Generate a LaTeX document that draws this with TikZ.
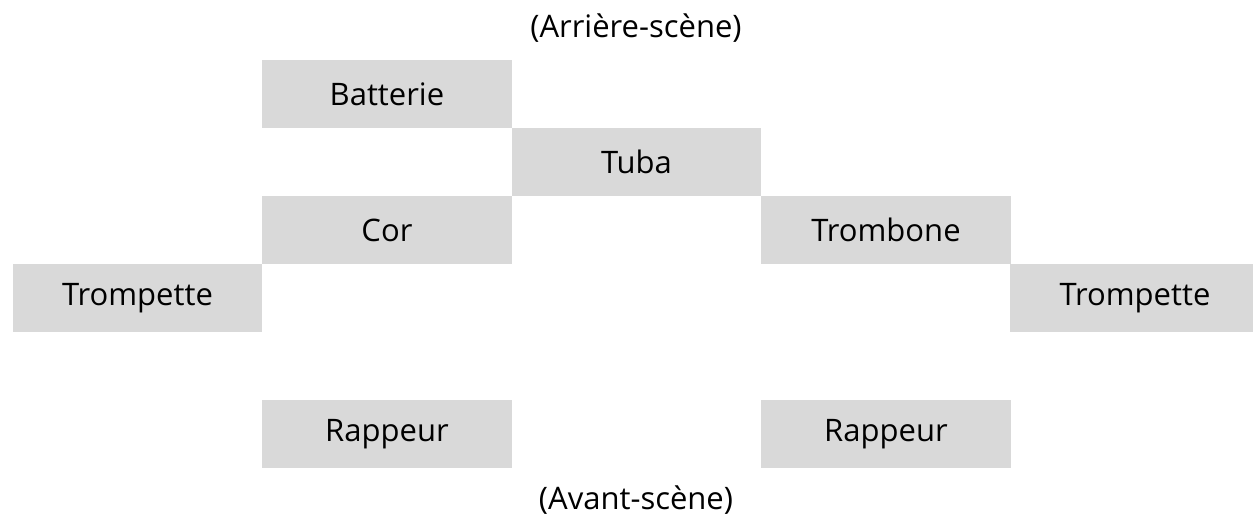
\documentclass[tikz,border=0pt]{standalone}
\usepackage{fontspec}
\setmainfont{Open Sans}
\definecolor{boxgray}{HTML}{D9D9D9}
\begin{document}
\begin{tikzpicture}[x=1pt,y=-1pt,
  stagebox/.style={fill=boxgray,draw=none,minimum width=249.5pt,minimum height=68pt,inner sep=0pt,anchor=north west,font=\fontsize{31}{36}\selectfont},
  caption/.style={font=\fontsize{31}{36}\selectfont,inner sep=0pt}]
\useasboundingbox[fill=white] (0,0) rectangle (1253,516);
\node[stagebox] (batterie) at (262,60) {Batterie};
\node[stagebox] (tuba) at (511.5,128) {Tuba};
\node[stagebox] (cor) at (262,196) {Cor};
\node[stagebox] (trombone) at (761,196) {Trombone};
\node[stagebox] (trompL) at (12.5,264) {Trompette};
\begin{scope}
\clip (0,0) rectangle (1253,516);
\node[stagebox] (trompR) at (1010,264) {Trompette};
\end{scope}
\node[stagebox] (rappL) at (262,400) {Rappeur};
\node[stagebox] (rappR) at (761,400) {Rappeur};
\node[caption] (back) at (636,28) {(Arrière-scène)};
\node[caption] (front) at (636,500) {(Avant-scène)};
\end{tikzpicture}
\end{document}
